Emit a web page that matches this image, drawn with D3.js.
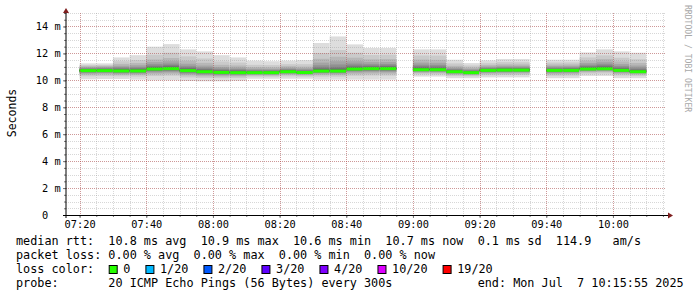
<!DOCTYPE html>
<html>
<head>
<meta charset="utf-8">
<script src="https://cdn.jsdelivr.net/npm/d3@7"></script>
<style>
  body { margin: 0; background: #fff; }
  text { font-family: "DejaVu Sans Mono", monospace; white-space: pre; }
</style>
</head>
<body>
<div id="chart"></div>
<script>
var width = 697
var height = 297

// 5 minute bins (start time), two bins have no data (08:55, 09:35)
var day = "2025-07-07"
var rangeStart = "07:15:55"
var rangeEnd = "10:15:55"
var binStart = ["07:20","07:25","07:30","07:35","07:40","07:45","07:50","07:55","08:00","08:05",
  "08:10","08:15","08:20","08:25","08:30","08:35","08:40","08:45","08:50",
  "09:00","09:05","09:10","09:15","09:20","09:25","09:30",
  "09:40","09:45","09:50","09:55","10:00","10:05"]

// median rtt in ms
var median = [10.72,10.72,10.70,10.70,10.84,10.87,10.72,10.64,10.59,10.57,
  10.57,10.57,10.64,10.58,10.69,10.69,10.84,10.87,10.87,
  10.79,10.79,10.64,10.57,10.74,10.76,10.76,
  10.74,10.74,10.84,10.86,10.74,10.64]

// the 20 sorted pings of every bin, ms
var pings = [
  [10.08,10.30,10.42,10.50,10.56,10.61,10.64,10.67,10.69,10.71,10.73,10.75,10.78,10.82,10.86,10.92,10.98,11.05,11.13,11.26],
  [10.10,10.32,10.44,10.52,10.57,10.62,10.65,10.68,10.70,10.71,10.73,10.76,10.79,10.83,10.88,10.93,11.00,11.07,11.14,11.26],
  [10.10,10.30,10.40,10.48,10.54,10.59,10.63,10.66,10.68,10.69,10.71,10.74,10.78,10.83,10.90,10.98,11.08,11.22,11.42,11.70],
  [10.05,10.28,10.40,10.48,10.54,10.59,10.63,10.66,10.68,10.69,10.71,10.74,10.78,10.84,10.91,11.00,11.12,11.28,11.50,11.87],
  [10.00,10.32,10.46,10.56,10.64,10.70,10.75,10.79,10.81,10.83,10.85,10.88,10.93,10.99,11.08,11.20,11.35,11.55,11.90,12.50],
  [10.00,10.34,10.48,10.58,10.66,10.72,10.77,10.81,10.84,10.86,10.88,10.91,10.96,11.03,11.12,11.25,11.42,11.66,12.05,12.69],
  [9.95,10.22,10.36,10.45,10.52,10.58,10.63,10.67,10.69,10.71,10.73,10.76,10.81,10.88,10.97,11.08,11.23,11.45,11.78,12.30],
  [9.93,10.18,10.30,10.39,10.46,10.52,10.56,10.60,10.62,10.63,10.65,10.68,10.72,10.78,10.86,10.96,11.10,11.30,11.62,12.15],
  [9.93,10.16,10.28,10.36,10.42,10.47,10.51,10.55,10.57,10.58,10.60,10.63,10.67,10.72,10.79,10.88,10.99,11.15,11.40,11.87],
  [9.97,10.18,10.29,10.36,10.42,10.47,10.51,10.54,10.56,10.57,10.58,10.61,10.65,10.70,10.77,10.85,10.96,11.10,11.32,11.70],
  [10.12,10.28,10.36,10.42,10.46,10.50,10.53,10.55,10.56,10.57,10.58,10.60,10.63,10.67,10.72,10.79,10.87,10.98,11.15,11.46],
  [10.12,10.27,10.35,10.41,10.46,10.50,10.53,10.55,10.56,10.57,10.58,10.60,10.63,10.67,10.72,10.78,10.86,10.97,11.13,11.42],
  [10.12,10.30,10.40,10.47,10.52,10.56,10.59,10.61,10.63,10.64,10.65,10.67,10.70,10.74,10.79,10.86,10.94,11.05,11.20,11.46],
  [10.12,10.28,10.37,10.43,10.48,10.51,10.54,10.56,10.57,10.58,10.59,10.61,10.64,10.68,10.74,10.81,10.90,11.02,11.20,11.50],
  [10.05,10.28,10.40,10.49,10.55,10.60,10.64,10.66,10.68,10.69,10.70,10.73,10.78,10.86,10.97,11.12,11.32,11.60,12.02,12.77],
  [10.05,10.27,10.39,10.48,10.55,10.60,10.63,10.66,10.68,10.69,10.70,10.73,10.79,10.88,11.00,11.18,11.42,11.75,12.25,13.26],
  [10.05,10.34,10.48,10.58,10.66,10.72,10.76,10.79,10.82,10.83,10.85,10.88,10.93,11.00,11.10,11.24,11.42,11.68,12.05,12.67],
  [10.05,10.36,10.50,10.60,10.68,10.74,10.79,10.82,10.85,10.86,10.88,10.91,10.95,11.01,11.09,11.20,11.35,11.56,11.88,12.40],
  [10.05,10.35,10.49,10.59,10.67,10.73,10.78,10.82,10.85,10.86,10.88,10.91,10.96,11.02,11.10,11.21,11.36,11.58,11.90,12.40],
  [10.28,10.45,10.54,10.61,10.66,10.70,10.73,10.76,10.77,10.78,10.80,10.83,10.88,10.95,11.04,11.16,11.32,11.54,11.85,12.30],
  [10.28,10.44,10.53,10.60,10.65,10.69,10.73,10.75,10.77,10.78,10.80,10.83,10.87,10.94,11.03,11.15,11.30,11.52,11.84,12.30],
  [10.16,10.32,10.41,10.48,10.53,10.57,10.60,10.62,10.63,10.64,10.65,10.67,10.70,10.74,10.80,10.87,10.96,11.08,11.26,11.53],
  [10.16,10.30,10.38,10.44,10.48,10.51,10.54,10.55,10.56,10.57,10.58,10.60,10.63,10.67,10.72,10.78,10.86,10.96,11.10,11.28],
  [10.22,10.38,10.48,10.55,10.60,10.64,10.67,10.70,10.72,10.73,10.75,10.77,10.80,10.84,10.89,10.95,11.03,11.13,11.27,11.48],
  [10.22,10.39,10.49,10.56,10.62,10.66,10.70,10.72,10.74,10.75,10.77,10.79,10.82,10.86,10.92,10.99,11.08,11.19,11.35,11.58],
  [10.22,10.40,10.50,10.57,10.62,10.67,10.70,10.73,10.75,10.76,10.77,10.79,10.82,10.86,10.91,10.98,11.07,11.18,11.34,11.58],
  [10.16,10.34,10.45,10.53,10.59,10.63,10.67,10.70,10.72,10.73,10.75,10.77,10.80,10.84,10.90,10.97,11.06,11.17,11.32,11.53],
  [10.16,10.35,10.46,10.54,10.60,10.64,10.68,10.70,10.72,10.73,10.75,10.77,10.80,10.85,10.91,10.98,11.07,11.18,11.33,11.53],
  [10.33,10.50,10.60,10.67,10.72,10.76,10.79,10.81,10.83,10.84,10.85,10.88,10.92,10.98,11.06,11.16,11.29,11.46,11.70,12.07],
  [10.33,10.51,10.62,10.69,10.74,10.78,10.81,10.83,10.85,10.86,10.87,10.90,10.95,11.02,11.11,11.23,11.38,11.58,11.86,12.30],
  [10.16,10.36,10.47,10.55,10.61,10.65,10.68,10.71,10.72,10.73,10.75,10.78,10.82,10.88,10.96,11.07,11.21,11.40,11.68,12.15],
  [10.16,10.33,10.43,10.50,10.55,10.59,10.61,10.63,10.64,10.64,10.65,10.67,10.71,10.77,10.85,10.96,11.10,11.29,11.57,12.05]
]

var yMax = 15
var yTicks = [0,2,4,6,8,10,12,14]
var yLabels = ["0  ","2 m","4 m","6 m","8 m","10 m","12 m","14 m"]

var lossLabels = ["0","1/20","2/20","3/20","4/20","10/20","19/20"]
var lossColors = ["#26ff00","#00b8ff","#0059ff","#5e00ff","#7e00ff","#dd00ff","#ff0000"]

var statLines = [
  "median rtt:  10.8 ms avg  10.9 ms max  10.6 ms min  10.7 ms now  0.1 ms sd  114.9   am/s",
  "packet loss: 0.00 % avg  0.00 % max  0.00 % min  0.00 % now",
  "loss color:",
  "probe:       20 ICMP Echo Pings (56 Bytes) every 300s            end: Mon Jul  7 10:15:55 2025"
]

var plot = {left: 66, right: 666, top: 13, bottom: 215}
var adv = 7.104  // legend char width

var parse = d3.timeParse("%Y-%m-%d %H:%M:%S")
var t0 = parse(day + " " + rangeStart)
var t1 = parse(day + " " + rangeEnd)

var x = d3.scaleTime().domain([t0, t1]).range([plot.left, plot.right])
var y = d3.scaleLinear().domain([0, yMax]).range([plot.bottom, plot.top])

var svg = d3.select("#chart").append("svg")
    .attr("width", width)
    .attr("height", height)

// smoke: 10 stacked bands, lighter outside, darker towards the median
var bins = svg.append("g").selectAll("g").data(binStart).enter().append("g")
bins.each(function(s, i) {
  var a = parse(day + " " + s + ":00")
  var b = d3.timeMinute.offset(a, 5)
  var g = d3.select(this)
  var p = pings[i]
  for (var k = 1; k <= 10; k++) {
    var c = Math.floor(190 / 10 * (10 - k)) + 50
    g.append("rect")
      .attr("x", x(a)).attr("width", x(b) - x(a))
      .attr("y", y(p[20 - k])).attr("height", y(p[k - 1]) - y(p[20 - k]))
      .attr("fill", d3.rgb(c, c, c))
  }
  g.append("rect")
    .attr("x", x(a)).attr("width", x(b) - x(a))
    .attr("y", y(median[i]) - 1.5).attr("height", 3)
    .attr("fill", lossColors[0])
})

// grid
var grid = svg.append("g")
var minorX = x.ticks(d3.timeMinute.every(5))
var majorX = x.ticks(d3.timeMinute.every(20))
var minorY = y.ticks(30)

grid.selectAll(".gx").data(minorX).enter().append("line")
  .attr("x1", d => Math.round(x(d)) + 0.5).attr("x2", d => Math.round(x(d)) + 0.5)
  .attr("y1", plot.top).attr("y2", plot.bottom)
  .attr("stroke", "#8c8c8c").attr("stroke-opacity", 0.35).attr("stroke-dasharray", "1,1")
grid.selectAll(".gy").data(minorY).enter().append("line")
  .attr("y1", d => Math.round(y(d)) + 0.5).attr("y2", d => Math.round(y(d)) + 0.5)
  .attr("x1", plot.left).attr("x2", plot.right)
  .attr("stroke", "#8c8c8c").attr("stroke-opacity", 0.35).attr("stroke-dasharray", "1,1")
grid.selectAll(".mx").data(majorX).enter().append("line")
  .attr("x1", d => Math.round(x(d)) + 0.5).attr("x2", d => Math.round(x(d)) + 0.5)
  .attr("y1", plot.top).attr("y2", plot.bottom)
  .attr("stroke", "#c03939").attr("stroke-opacity", 0.4).attr("stroke-dasharray", "1,1")
grid.selectAll(".my").data(yTicks.slice(1)).enter().append("line")
  .attr("y1", d => Math.round(y(d)) + 0.5).attr("y2", d => Math.round(y(d)) + 0.5)
  .attr("x1", plot.left).attr("x2", plot.right)
  .attr("stroke", "#c03939").attr("stroke-opacity", 0.4).attr("stroke-dasharray", "1,1")

// axes
var xMinorAxis = d3.axisBottom(x).tickValues(minorX).tickSize(2).tickFormat("")
var xAxis = d3.axisBottom(x).tickValues(majorX).tickSize(3).tickPadding(3)
  .tickFormat(d3.timeFormat("%H:%M"))
var yMinorAxis = d3.axisLeft(y).tickValues(minorY).tickSize(2).tickFormat("")
var yAxis = d3.axisLeft(y).tickValues(yTicks).tickSize(3).tickPadding(2.4)
  .tickFormat((d, i) => yLabels[i])

svg.append("g").attr("transform", `translate(0,${plot.bottom})`).call(xMinorAxis)
svg.append("g").attr("transform", `translate(0,${plot.bottom})`).call(xAxis)
svg.append("g").attr("transform", `translate(${plot.left},0)`).call(yMinorAxis)
svg.append("g").attr("transform", `translate(${plot.left},0)`).call(yAxis)
svg.selectAll(".domain").remove()
svg.selectAll(".tick line").attr("stroke", "#777")
svg.selectAll(".tick text")
  .attr("font-family", "DejaVu Sans Mono").attr("font-size", 10.3)
  .attr("fill", "#000").attr("xml:space", "preserve")

// axis lines with arrows
svg.append("line").attr("x1", plot.left).attr("x2", plot.left)
  .attr("y1", plot.bottom + 3).attr("y2", 10).attr("stroke", "#000")
svg.append("line").attr("x1", plot.left - 3).attr("x2", plot.right + 3)
  .attr("y1", plot.bottom + 0.5).attr("y2", plot.bottom + 0.5).attr("stroke", "#000")
svg.append("path").attr("d", `M${plot.left - 3},13 L${plot.left},8 L${plot.left + 3},13 Z`)
  .attr("fill", "#7f1f1f")
svg.append("path").attr("d", `M${plot.right + 2},${plot.bottom - 2.5} L${plot.right + 7},${plot.bottom + 0.5} L${plot.right + 2},${plot.bottom + 3.5} Z`)
  .attr("fill", "#7f1f1f")

// vertical labels
svg.append("text")
  .attr("transform", "translate(15.5,113) rotate(-90)")
  .attr("text-anchor", "middle").attr("font-size", 11.5)
  .text("Seconds")
svg.append("text")
  .attr("transform", "translate(684.8,5) rotate(90)")
  .attr("font-size", 8.1).attr("fill", "#a8a8a8")
  .text("RRDTOOL / TOBI OETIKER")

// legend text
var legend = svg.append("g")
legend.selectAll("text").data(statLines).enter().append("text")
  .attr("x", 16).attr("y", (d, i) => 245 + i * 14)
  .attr("font-size", 11.8).attr("xml:space", "preserve")
  .text(d => d)

var lx = 16 + 13 * adv + 0.35
lossLabels.forEach(function(l, i) {
  legend.append("rect")
    .attr("x", lx + 0.5).attr("y", 265.5).attr("width", 8).attr("height", 8)
    .attr("fill", lossColors[i]).attr("stroke", "#000")
  legend.append("text")
    .attr("x", lx + 14.6).attr("y", 273)
    .attr("font-size", 11.8)
    .text(l)
  lx += 14.6 + l.length * adv + 15.0
})
</script>
</body>
</html>
